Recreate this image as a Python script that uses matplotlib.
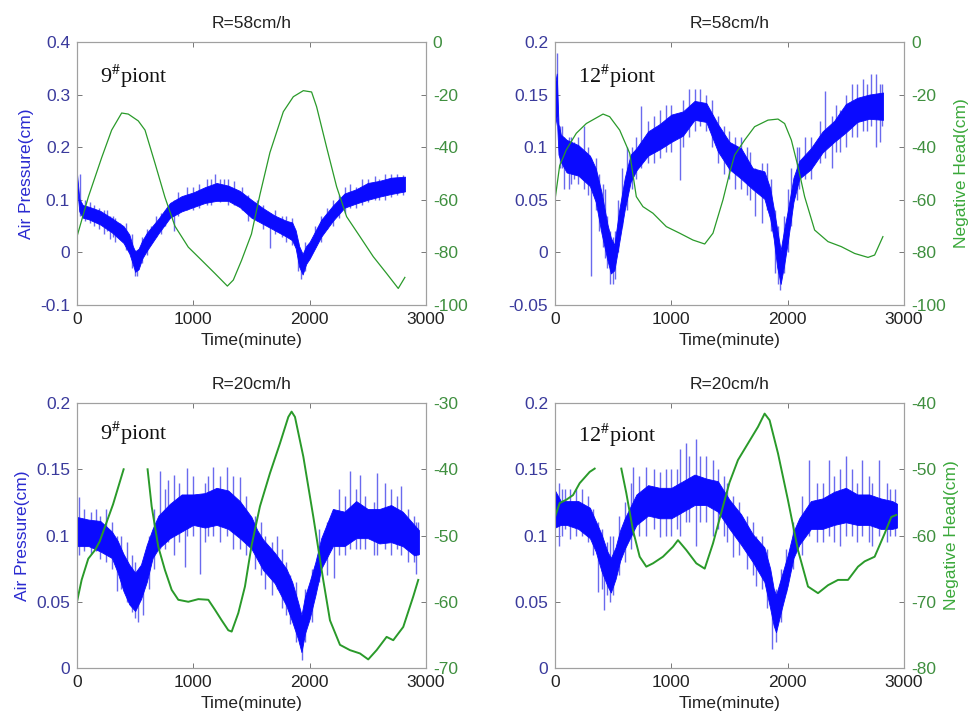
import numpy as np
import matplotlib
matplotlib.use('Agg')
import matplotlib.pyplot as plt

plt.rcParams['font.family'] = ['Liberation Sans', 'DejaVu Sans']
plt.rcParams['axes.unicode_minus'] = False
plt.rcParams['mathtext.fontset'] = 'stix'

# ---------------- Panel A: R=58cm/h, 9# point ----------------
a_t = [0, 20, 50, 100, 200, 300, 400, 450, 480, 500, 530, 560, 600, 700, 800, 900, 1000, 1100, 1200,
       1300, 1400, 1500, 1600, 1700, 1800, 1850, 1880, 1910, 1940, 1970, 2000, 2100, 2200, 2300, 2400,
       2500, 2600, 2700, 2820]
a_lo = [0.125, 0.078, 0.066, 0.063, 0.053, 0.038, 0.018, -0.002, -0.022, -0.037, -0.032, -0.012, 0.003, 0.036,
        0.066, 0.078, 0.086, 0.094, 0.098, 0.098, 0.086, 0.066, 0.054, 0.042, 0.03, 0.023, 0.008, -0.027,
        -0.042, -0.022, -0.012, 0.03, 0.06, 0.085, 0.093, 0.1, 0.106, 0.111, 0.116]
a_hi = [0.15, 0.102, 0.09, 0.087, 0.079, 0.065, 0.05, 0.034, 0.012, 0.002, 0.007, 0.022, 0.037, 0.064,
        0.094, 0.107, 0.114, 0.124, 0.132, 0.127, 0.117, 0.1, 0.084, 0.07, 0.06, 0.057, 0.042, 0.012,
        -0.003, 0.012, 0.02, 0.062, 0.089, 0.112, 0.12, 0.132, 0.136, 0.142, 0.144]
a_sp_t = [30, 150, 230, 280, 330, 370, 520, 640, 760, 830, 950, 1120, 1190, 1260, 1350, 1550, 1660,
          1760, 1930, 2150, 2350, 2450, 2560, 2650, 2750,
          70, 110, 190, 260, 310, 420, 470, 500, 560, 600, 680, 720, 870, 1000, 1050, 1150, 1230, 1300,
          1420, 1470, 1600, 1700, 1800, 1850, 1900, 1960, 2050, 2100, 2200, 2250, 2300, 2400, 2500, 2600,
          2700, 2800]
a_sp_lo = [0.07, 0.05, 0.035, 0.025, 0.02, 0.025, -0.045, 0.02, 0.05, 0.04, 0.08, 0.09, 0.1, 0.1, 0.09,
           0.06, 0.008, 0.03, -0.05, 0.045, 0.085, 0.09, 0.1, 0.1, 0.11,
           0.06, 0.055, 0.045, 0.04, 0.03, 0.005, -0.03, -0.045, -0.02, -0.005, 0.03, 0.035, 0.07, 0.08,
           0.085, 0.09, 0.095, 0.09, 0.08, 0.06, 0.045, 0.035, 0.02, 0.015, -0.035, -0.035, 0.01, 0.02,
           0.05, 0.065, 0.075, 0.085, 0.095, 0.1, 0.105, 0.11]
a_sp_hi = [0.15, 0.09, 0.08, 0.07, 0.065, 0.055, 0.0, 0.05, 0.08, 0.1, 0.125, 0.14, 0.15, 0.14, 0.135,
           0.1, 0.075, 0.07, -0.01, 0.085, 0.13, 0.14, 0.145, 0.15, 0.15,
           0.1, 0.095, 0.085, 0.08, 0.07, 0.055, 0.035, 0.005, 0.03, 0.045, 0.07, 0.075, 0.115, 0.125,
           0.13, 0.14, 0.14, 0.14, 0.125, 0.11, 0.09, 0.08, 0.07, 0.065, 0.02, 0.02, 0.05, 0.07, 0.1,
           0.11, 0.125, 0.125, 0.14, 0.14, 0.15, 0.148]
a_g_t = [0, 97, 212, 298, 384, 441, 527, 585, 670, 756, 842, 957, 1072, 1186, 1293, 1344, 1415, 1500,
         1573, 1659, 1774, 1860, 1946, 2017, 2060, 2146, 2232, 2318, 2433, 2547, 2662, 2762, 2819]
a_g_v = [-74, -59, -44, -33.5, -27, -27.4, -30, -33.5, -46, -59, -70, -78, -83, -88, -92.8, -90.5, -83,
         -73, -58, -42, -26.5, -20.8, -18.5, -19, -24.6, -40, -55, -66.4, -74, -81.6, -88, -93.7, -89.5]

# ---------------- Panel B: R=58cm/h, 12# point ----------------
b_t = [0, 15, 30, 50, 100, 200, 300, 350, 400, 450, 480, 510, 550, 600, 650, 700, 800, 900, 1000, 1100,
       1200, 1300, 1400, 1500, 1600, 1700, 1800, 1850, 1880, 1910, 1940, 1970, 2000, 2050, 2100, 2200,
       2300, 2400, 2500, 2600, 2700, 2820]
b_lo = [0.12, 0.13, 0.093, 0.086, 0.076, 0.073, 0.063, 0.048, 0.018, -0.007, -0.02, -0.017, 0.008, 0.041,
        0.067, 0.078, 0.092, 0.098, 0.105, 0.111, 0.126, 0.124, 0.096, 0.079, 0.07, 0.06, 0.051, 0.032,
        0.013, -0.014, -0.03, -0.012, 0.009, 0.048, 0.07, 0.079, 0.095, 0.105, 0.114, 0.124, 0.127, 0.126]
b_hi = [0.16, 0.17, 0.122, 0.112, 0.107, 0.102, 0.092, 0.08, 0.057, 0.027, 0.014, 0.007, 0.039, 0.071, 0.093,
        0.099, 0.115, 0.122, 0.131, 0.134, 0.144, 0.142, 0.122, 0.105, 0.099, 0.08, 0.077, 0.061, 0.042, 0.022,
        0.002, 0.022, 0.039, 0.071, 0.087, 0.099, 0.115, 0.125, 0.141, 0.147, 0.15, 0.152]
b_sp_t = [20, 40, 80, 120, 160, 250, 307, 430, 470, 520, 620, 742, 850, 950, 1072, 1150, 1250, 1350,
          1450, 1550, 1650, 1720, 1780, 1890, 1935, 2000, 2080, 2150, 2320, 2380, 2450, 2550, 2650, 2720,
          2760, 2790,
          60, 140, 200, 280, 350, 380, 410, 450, 500, 540, 580, 660, 700, 800, 900, 1000, 1100, 1200, 1300,
          1400, 1500, 1600, 1680, 1820, 1860, 1920, 1970, 2030, 2100, 2200, 2280, 2420, 2500, 2600, 2680,
          2810]
b_sp_lo = [0.13, 0.08, 0.06, 0.06, 0.07, 0.06, -0.022, -0.005, -0.03, -0.025, 0.04, 0.08, 0.085, 0.095,
           0.069, 0.11, 0.12, 0.1, 0.075, 0.06, 0.055, 0.035, 0.028, -0.02, -0.036, 0.0, 0.05, 0.07, 0.09,
           0.08, 0.095, 0.11, 0.115, 0.12, 0.1, 0.105,
           0.08, 0.065, 0.065, 0.055, 0.04, 0.02, 0.005, -0.015, -0.03, 0.0, 0.025, 0.06, 0.07, 0.085, 0.09,
           0.095, 0.1, 0.115, 0.115, 0.085, 0.07, 0.06, 0.05, 0.04, 0.02, -0.03, -0.02, 0.025, 0.06, 0.07,
           0.085, 0.095, 0.1, 0.11, 0.115, 0.12]
b_sp_hi = [0.19, 0.12, 0.11, 0.11, 0.105, 0.12, 0.09, 0.06, 0.02, 0.02, 0.1, 0.139, 0.13, 0.14, 0.13,
           0.155, 0.155, 0.145, 0.12, 0.11, 0.1, 0.08, 0.085, 0.04, 0.0, 0.06, 0.1, 0.11, 0.153, 0.13,
           0.135, 0.16, 0.165, 0.17, 0.17, 0.16,
           0.12, 0.11, 0.11, 0.1, 0.09, 0.075, 0.065, 0.035, 0.015, 0.05, 0.08, 0.1, 0.11, 0.125, 0.135,
           0.14, 0.145, 0.155, 0.15, 0.13, 0.115, 0.11, 0.095, 0.085, 0.07, 0.025, 0.035, 0.08, 0.1, 0.11,
           0.125, 0.14, 0.15, 0.16, 0.16, 0.16]
b_g_t = [0, 40, 97, 183, 269, 413, 470, 556, 642, 699, 756, 842, 957, 1072, 1186, 1287, 1358, 1444,
         1500, 1544, 1630, 1716, 1831, 1917, 1974, 2032, 2089, 2146, 2232, 2347, 2461, 2576, 2691, 2748, 2819]
b_g_v = [-60, -47, -41, -34.7, -31, -27.4, -28.4, -33.5, -42.3, -58.8, -62.6, -65.1, -70.2, -72.7, -75.3,
         -76.8, -72.7, -60, -50, -43, -37.3, -32.2, -29.7, -29.3, -31, -37.3, -47.4, -58.8, -71.5, -75.9,
         -77.8, -80.4, -81.9, -81, -74]

# ---------------- Panel C: R=20cm/h, 9# point ----------------
c_t = [0, 100, 200, 300, 350, 400, 450, 500, 550, 600, 650, 700, 800, 900, 1000, 1100, 1200, 1300, 1400,
       1500, 1550, 1600, 1700, 1800, 1850, 1900, 1930, 1960, 2000, 2050, 2100, 2200, 2300, 2400, 2500,
       2600, 2700, 2800, 2900, 2940]
c_lo = [0.092, 0.092, 0.088, 0.083, 0.072, 0.058, 0.048, 0.043, 0.052, 0.065, 0.083, 0.09, 0.098, 0.103,
        0.108, 0.106, 0.108, 0.105, 0.098, 0.09, 0.082, 0.074, 0.064, 0.047, 0.035, 0.022, 0.012, 0.026,
        0.037, 0.055, 0.075, 0.092, 0.092, 0.098, 0.098, 0.094, 0.095, 0.092, 0.085, 0.086]
c_hi = [0.114, 0.112, 0.111, 0.103, 0.096, 0.086, 0.078, 0.072, 0.078, 0.093, 0.105, 0.115, 0.124, 0.131,
        0.131, 0.132, 0.136, 0.134, 0.126, 0.114, 0.104, 0.097, 0.087, 0.075, 0.065, 0.05, 0.04, 0.054,
        0.065, 0.08, 0.098, 0.12, 0.118, 0.126, 0.12, 0.12, 0.123, 0.118, 0.108, 0.104]
c_sp_t = [20, 120, 250, 340, 430, 526, 569, 713, 784, 830, 928, 943, 1057, 1172, 1287, 1340, 1402, 1620,
          1760, 1833, 1934, 2150, 2207, 2351, 2437, 2580, 2650, 2782, 2850, 2911,
          60, 160, 200, 300, 380, 470, 500, 620, 660, 760, 880, 1000, 1100, 1130, 1230, 1450, 1530, 1580,
          1680, 1720, 1800, 1880, 1960, 2020, 2080, 2250, 2300, 2400, 2480, 2550, 2700, 2750, 2900, 2930]
c_sp_lo = [0.085, 0.086, 0.08, 0.058, 0.05, 0.035, 0.04, 0.09, 0.095, 0.085, 0.076, 0.1, 0.071, 0.1, 0.1,
           0.09, 0.09, 0.06, 0.045, 0.033, 0.006, 0.07, 0.068, 0.09, 0.09, 0.085, 0.09, 0.085, 0.08, 0.071,
           0.088, 0.088, 0.082, 0.075, 0.06, 0.042, 0.038, 0.06, 0.075, 0.09, 0.095, 0.1, 0.095, 0.1, 0.095,
           0.085, 0.075, 0.07, 0.055, 0.06, 0.04, 0.02, 0.02, 0.035, 0.065, 0.085, 0.085, 0.09, 0.09, 0.085,
           0.085, 0.09, 0.08, 0.085]
c_sp_hi = [0.129, 0.118, 0.12, 0.1, 0.095, 0.07, 0.08, 0.149, 0.142, 0.146, 0.13, 0.151, 0.13, 0.152, 0.152,
           0.145, 0.144, 0.1, 0.09, 0.07, 0.04, 0.11, 0.12, 0.149, 0.146, 0.147, 0.14, 0.137, 0.12, 0.11,
           0.12, 0.12, 0.115, 0.11, 0.1, 0.085, 0.08, 0.1, 0.12, 0.135, 0.14, 0.145, 0.14, 0.145, 0.145,
           0.13, 0.115, 0.11, 0.095, 0.1, 0.08, 0.065, 0.06, 0.075, 0.105, 0.135, 0.13, 0.135, 0.13, 0.125,
           0.135, 0.13, 0.115, 0.11]
c_g_t = [0, 40, 97, 155, 195, 310, 401, 500, 607, 642, 699, 756, 814, 871, 957, 1043, 1129, 1186, 1244,
         1301, 1330, 1387, 1444, 1501, 1573, 1659, 1745, 1817, 1845, 1874, 1946, 2032, 2117, 2175, 2261,
         2347, 2433, 2504, 2576, 2662, 2719, 2805, 2891, 2934]
c_g_v = [-60, -56.7, -53.5, -52.2, -50.9, -45.3, -40, np.nan, -40, -45.6, -51.7, -55.2, -58.2, -59.7, -60,
         -59.6, -59.7, -61.2, -62.8, -64.3, -64.5, -61.7, -57.7, -51.5, -45.6, -40.6, -36.1, -32.1, -31.3,
         -32.1, -38.1, -47.2, -56.7, -62.8, -66.5, -67.3, -67.8, -68.7, -67.3, -65.3, -65.8, -63.8, -59.2,
         -56.7]

# ---------------- Panel D: R=20cm/h, 12# point ----------------
d_t = [0, 50, 100, 200, 300, 350, 400, 450, 480, 520, 560, 600, 700, 800, 900, 1000, 1100, 1200, 1300,
       1400, 1500, 1600, 1700, 1800, 1850, 1880, 1900, 1950, 2000, 2050, 2100, 2200, 2300, 2400, 2500,
       2600, 2700, 2800, 2900, 2940]
d_lo = [0.106, 0.108, 0.108, 0.105, 0.098, 0.088, 0.073, 0.062, 0.057, 0.067, 0.081, 0.09, 0.108, 0.115,
        0.113, 0.113, 0.118, 0.123, 0.123, 0.118, 0.105, 0.093, 0.08, 0.065, 0.045, 0.032, 0.027, 0.045,
        0.062, 0.083, 0.093, 0.105, 0.105, 0.108, 0.11, 0.108, 0.108, 0.105, 0.105, 0.106]
d_hi = [0.134, 0.126, 0.126, 0.126, 0.121, 0.111, 0.101, 0.088, 0.083, 0.091, 0.104, 0.113, 0.131, 0.138,
        0.136, 0.136, 0.141, 0.146, 0.143, 0.141, 0.127, 0.116, 0.101, 0.091, 0.075, 0.06, 0.055, 0.07,
        0.085, 0.103, 0.113, 0.126, 0.128, 0.133, 0.136, 0.131, 0.131, 0.128, 0.126, 0.124]
d_sp_t = [30, 129, 230, 371, 420, 470, 600, 671, 786, 900, 1000, 1071, 1129, 1214, 1300, 1357, 1450, 1529,
          1650, 1729, 1820, 1866, 1986, 2186, 2250, 2357, 2450, 2500, 2643, 2729, 2786, 2880,
          60, 90, 180, 280, 330, 400, 450, 500, 550, 650, 720, 850, 950, 1050, 1150, 1250, 1400, 1480,
          1580, 1700, 1780, 1900, 1940, 2050, 2120, 2300, 2400, 2550, 2600, 2700, 2850, 2920]
d_sp_lo = [0.092, 0.097, 0.1, 0.057, 0.044, 0.05, 0.08, 0.1, 0.1, 0.099, 0.1, 0.1, 0.11, 0.092, 0.11, 0.1,
           0.1, 0.084, 0.075, 0.062, 0.045, 0.014, 0.057, 0.1, 0.095, 0.1, 0.092, 0.1, 0.1, 0.092, 0.1, 0.1,
           0.1, 0.105, 0.1, 0.095, 0.085, 0.06, 0.055, 0.055, 0.07, 0.09, 0.1, 0.105, 0.1, 0.105, 0.11, 0.11,
           0.105, 0.095, 0.085, 0.07, 0.06, 0.02, 0.035, 0.075, 0.085, 0.095, 0.095, 0.1, 0.095, 0.095,
           0.095, 0.1]
d_sp_hi = [0.14, 0.135, 0.135, 0.11, 0.09, 0.1, 0.125, 0.152, 0.152, 0.148, 0.15, 0.165, 0.17, 0.173, 0.16,
           0.157, 0.145, 0.13, 0.115, 0.1, 0.09, 0.06, 0.09, 0.157, 0.14, 0.157, 0.15, 0.16, 0.157, 0.14,
           0.157, 0.135,
           0.135, 0.135, 0.135, 0.13, 0.12, 0.105, 0.095, 0.1, 0.115, 0.14, 0.145, 0.15, 0.15, 0.15, 0.16,
           0.16, 0.15, 0.14, 0.125, 0.11, 0.1, 0.06, 0.075, 0.11, 0.13, 0.14, 0.145, 0.15, 0.14, 0.145,
           0.14, 0.135]
d_g_t = [0, 40, 97, 155, 212, 298, 341, 450, 570, 613, 670, 728, 785, 842, 928, 1014, 1057, 1129, 1215,
         1287, 1358, 1444, 1500, 1573, 1659, 1745, 1802, 1845, 1917, 2002, 2089, 2175, 2261, 2347, 2433,
         2519, 2605, 2662, 2748, 2834, 2891, 2934]
d_g_v = [-57.2, -55.1, -54.6, -53.9, -52.1, -50.4, -49.9, np.nan, -49.9, -53.6, -59.2, -63.2, -64.7, -64.2,
         -63.2, -61.7, -60.7, -62.2, -64.2, -65, -61.2, -55.6, -52, -48.6, -46.1, -43.6, -41.6, -42.6, -47.6,
         -54.6, -62.2, -67.7, -68.7, -67.5, -66.7, -66.7, -64.7, -63.9, -63.2, -59.7, -57.2, -56.9]

titles = ['R=58cm/h', 'R=58cm/h', 'R=20cm/h', 'R=20cm/h']
point_labels = [r'9$^{\#}$piont', r'12$^{\#}$piont', r'9$^{\#}$piont', r'12$^{\#}$piont']
x_ticks = [0, 1000, 2000, 3000]
left_ticks = [[-0.1, 0, 0.1, 0.2, 0.3, 0.4], [-0.05, 0, 0.05, 0.1, 0.15, 0.2],
              [0, 0.05, 0.1, 0.15, 0.2], [0, 0.05, 0.1, 0.15, 0.2]]
left_ticklabels = [['-0.1', '0', '0.1', '0.2', '0.3', '0.4'], ['-0.05', '0', '0.05', '0.1', '0.15', '0.2'],
                   ['0', '0.05', '0.1', '0.15', '0.2'], ['0', '0.05', '0.1', '0.15', '0.2']]
right_ticks = [[-100, -80, -60, -40, -20, 0], [-100, -80, -60, -40, -20, 0],
               [-70, -60, -50, -40, -30], [-80, -70, -60, -50, -40]]

BLUE = '#0a0aff'
SPIKE = '#6a6aee'
GREEN = '#2a9a2a'
LTICK = '#3a3a9c'
RTICK = '#3f8f3f'
SPINE = '#a0a0a0'

fig = plt.figure(figsize=(9.72, 7.18), dpi=100)

positions = [(0.0792, 0.5752, 0.359, 0.3663), (0.571, 0.5752, 0.359, 0.3663),
             (0.0792, 0.0696, 0.359, 0.3691), (0.571, 0.0696, 0.359, 0.3691)]
data = [(a_t, a_lo, a_hi, a_sp_t, a_sp_lo, a_sp_hi, a_g_t, a_g_v),
        (b_t, b_lo, b_hi, b_sp_t, b_sp_lo, b_sp_hi, b_g_t, b_g_v),
        (c_t, c_lo, c_hi, c_sp_t, c_sp_lo, c_sp_hi, c_g_t, c_g_v),
        (d_t, d_lo, d_hi, d_sp_t, d_sp_lo, d_sp_hi, d_g_t, d_g_v)]
label_y = [0.845, 0.845, 0.86, 0.853]
green_lw = [0.9, 0.9, 1.4, 1.4]

FS = 12.5
for i in range(4):
    t, lo, hi, st, slo, shi, gt, gv = data[i]
    ax = fig.add_axes(positions[i])
    ax.vlines(st, slo, shi, color=SPIKE, lw=1.0, zorder=2)
    ax.fill_between(t, lo, hi, color=BLUE, lw=0.6, edgecolor=BLUE, zorder=3)
    ax.set_xlim(0, 3000)
    yt = left_ticks[i]
    ax.set_ylim(yt[0], yt[-1])
    ax.set_xticks(x_ticks)
    ax.set_xticklabels([str(v) for v in x_ticks])
    ax.set_yticks(yt)
    ax.set_yticklabels(left_ticklabels[i])
    ax.tick_params(axis='both', direction='in', length=3.5, width=0.7, labelsize=FS, pad=5,
                   top=True, color='#777777')
    ax.tick_params(axis='y', labelcolor=LTICK)
    ax.tick_params(axis='x', labelcolor='#222222')
    for s in ax.spines.values():
        s.set_color(SPINE)
        s.set_linewidth(0.8)
    ax.set_title(titles[i], fontsize=FS, pad=10, color='#222222')
    ax.set_xlabel('Time(minute)', fontsize=FS, labelpad=4, color='#222222')
    if i in (0, 2):
        ax.set_ylabel('Air Pressure(cm)', fontsize=FS, color='#2a2ad0', labelpad=4)
    ax.text(0.066, label_y[i], point_labels[i], transform=ax.transAxes, fontsize=16,
            family=['Liberation Serif', 'DejaVu Serif'], color='#111111', va='baseline', zorder=6)

    ax2 = ax.twinx()
    ax2.plot(gt, gv, color=GREEN, lw=green_lw[i])
    rt = right_ticks[i]
    ax2.set_ylim(rt[0], rt[-1])
    ax2.set_yticks(rt)
    ax2.set_yticklabels([str(v) for v in rt])
    ax2.tick_params(axis='y', direction='in', length=3.5, width=0.7, labelsize=FS, pad=5,
                    labelcolor=RTICK, color='#777777')
    for s in ax2.spines.values():
        s.set_color(SPINE)
        s.set_linewidth(0.8)
    if i in (1, 3):
        ax2.set_ylabel('Negative Head(cm)', fontsize=FS, color='#3aa83a', labelpad=6)

fig.savefig('out.png', dpi=100)
